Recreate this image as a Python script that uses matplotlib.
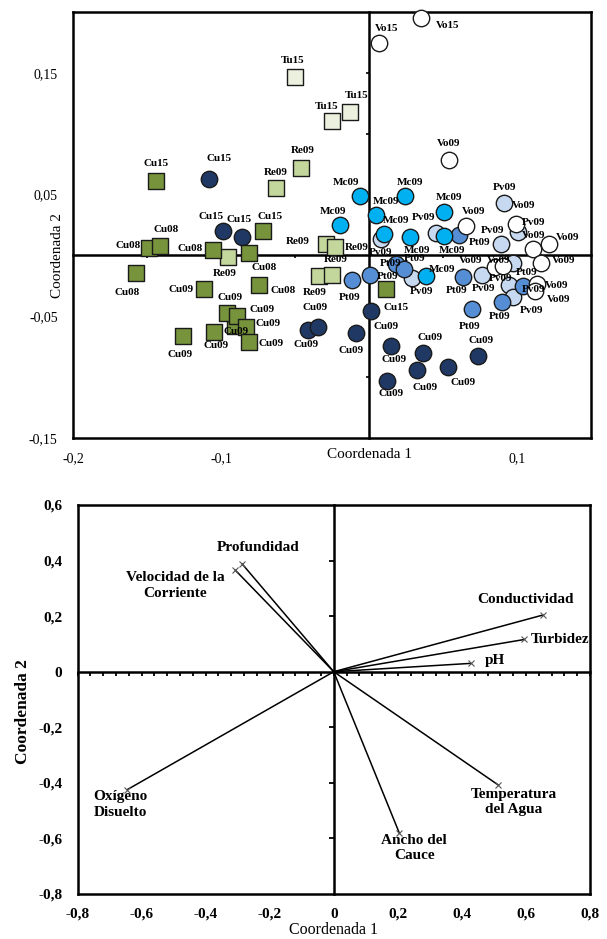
import matplotlib
matplotlib.use('Agg')
import matplotlib.pyplot as plt
import numpy as np

plt.rcParams['font.family'] = ['Liberation Serif', 'DejaVu Serif']

# ================= TOP CHART DATA (site ordination) =================
# Olive squares (Cu sites)
cu_sq_labels = ['Cu15', 'Cu15', 'Cu08', 'Cu08', 'Cu08', 'Cu08', 'Cu08', 'Cu09', 'Cu08',
                'Cu09', 'Cu09', 'Cu09', 'Cu09', 'Cu09', 'Cu09', 'Cu09', 'Cu15']
cu_sq_x = [-0.1439, -0.0718, -0.1486, -0.1412, -0.1052, -0.0813, -0.1574, -0.1115, -0.0741,
           -0.0905, -0.0961, -0.0890, -0.0833, -0.0809, -0.1045, -0.1255, 0.0115]
cu_sq_y = [0.0615, 0.0199, 0.0063, 0.0076, 0.0043, 0.0022, -0.0142, -0.0273, -0.0243,
           -0.0580, -0.0470, -0.0498, -0.0588, -0.0711, -0.0629, -0.0661, -0.0279]

# Light green squares (Re09)
re_labels = ['Re09'] * 7
re_x = [-0.0459, -0.0630, -0.0955, -0.0293, -0.0228, -0.0340, -0.0252]
re_y = [0.0716, 0.0552, -0.0014, 0.0098, 0.0068, -0.0170, -0.0158]

# Very light squares (Tu15)
tu_labels = ['Tu15'] * 3
tu_x = [-0.0500, -0.0128, -0.0252]
tu_y = [0.1467, 0.1180, 0.1101]

# Navy circles (Cu)
cu_ci_labels = ['Cu15', 'Cu15', 'Cu15', 'Cu09', 'Cu09', 'Cu09', 'Cu09', 'Cu09', 'Cu09',
                'Cu09', 'Cu09', 'Cu09', 'Cu09']
cu_ci_x = [-0.1081, -0.0989, -0.0860, -0.0410, -0.0347, -0.0088, 0.0014, 0.0149, 0.0367,
           0.0739, 0.0326, 0.0536, 0.0120]
cu_ci_y = [0.0629, 0.0199, 0.0153, -0.0612, -0.0588, -0.0639, -0.0457, -0.0743, -0.0798,
           -0.0825, -0.0940, -0.0920, -0.1030]

# Sky blue circles (Mc09)
mc_labels = ['Mc09'] * 9
mc_x = [-0.0061, 0.0243, -0.0196, 0.0047, 0.0507, 0.0103, 0.0277, 0.0507, 0.0383]
mc_y = [0.0486, 0.0486, 0.0248, 0.0330, 0.0355, 0.0172, 0.0153, 0.0158, -0.0170]

# Medium blue circles (Pt09)
pt_labels = ['Pt09'] * 9
pt_x = [0.0608, -0.0117, 0.0007, 0.0180, 0.0236, 0.0633, 0.1043, 0.0897, 0.0694]
pt_y = [0.0164, -0.0205, -0.0164, -0.0074, -0.0109, -0.0178, -0.0252, -0.0383, -0.0443]

# Light blue circles (Pv09)
pv_labels = ['Pv09'] * 10
pv_x = [0.0912, 0.0081, 0.0453, 0.1005, 0.0890, 0.0293, 0.0761, 0.0975, 0.0948, 0.0975]
pv_y = [0.0432, 0.0137, 0.0186, 0.0194, 0.0090, -0.0189, -0.0164, -0.0060, -0.0246, -0.0339]

# White circles (Vo)
vo_labels = ['Vo15', 'Vo15'] + ['Vo09'] * 10
vo_x = [0.0349, 0.0068, 0.0541, 0.0653, 0.0993, 0.1110, 0.1218, 0.0851, 0.0907, 0.1160,
        0.1133, 0.1122]
vo_y = [0.1948, 0.1748, 0.0781, 0.0240, 0.0262, 0.0049, 0.0090, -0.0093, -0.0086, -0.0066,
        -0.0238, -0.0293]

top_xticks = [-0.2, -0.1, 0.1]
top_xticklabels = ['-0,2', '-0,1', '0,1']
top_yticks = [0.15, 0.05, -0.05, -0.15]
top_yticklabels = ['0,15', '0,05', '-0,05', '-0,15']

# ================= BOTTOM CHART DATA (variable vectors) =================
var_names = ['Profundidad', 'Velocidad de la\nCorriente', 'Conductividad', 'Turbidez', 'pH',
             'Oxígeno\nDisuelto', 'Temperatura\ndel Agua', 'Ancho del\nCauce']
var_x = [-0.286, -0.307, 0.653, 0.595, 0.427, -0.644, 0.514, 0.2045]
var_y = [0.388, 0.365, 0.204, 0.116, 0.030, -0.424, -0.408, -0.580]

bot_ticks_x = [-0.8, -0.6, -0.4, -0.2, 0, 0.2, 0.4, 0.6, 0.8]
bot_ticklabels_x = ['-0,8', '-0,6', '-0,4', '-0,2', '0', '0,2', '0,4', '0,6', '0,8']
bot_ticks_y = [0.6, 0.4, 0.2, 0, -0.2, -0.4, -0.6, -0.8]
bot_ticklabels_y = ['0,6', '0,4', '0,2', '0', '-0,2', '-0,4', '-0,6', '-0,8']

# ================= layout / style (not data) =================
# label offsets in pixels (dx, dy) for each point label
cu_sq_off = [(0, 17), (7, 15), (-21, 2), (6, 17), (-23, 2), (15, -15), (-9, -20), (-23, -1),
             (24, -5), (1, -5), (3, 15), (25, 7), (22, 3), (22, -2), (2, -14), (-3, -19),
             (10, -18)]
re_off = [(2, 18), (0, 16), (-3, -16), (-28, 2), (21, 0), (-4, -16), (4, 15)]
tu_off = [(-2, 16), (7, 16), (-5, 15)]
cu_ci_off = [(10, 20), (-12, 15), (-3, 17), (-2, -15), (-3, 19), (-5, -17), (15, -15),
             (3, -14), (7, 15), (3, 15), (8, -18), (15, -15), (4, -13)]
mc_off = [(-14, 14), (5, 14), (-7, 14), (10, 14), (5, 15), (12, 14), (7, -14), (8, -14), (16, 7)]
pt_off = [(21, -7), (-2, -17), (18, -1), (-5, 1), (11, 10), (-6, -13), (3, 14), (-2, -14), (-2, -17)]
pv_off = [(1, 15), (0, -14), (-12, 15), (16, 9), (-8, 14), (9, -13), (2, -13), (-13, -16),
          (24, -4), (18, -14)]
vo_off = [(27, -7), (8, 14), (0, 17), (8, 15), (8, 18), (0, 14), (18, 7), (-24, 6), (-5, 5),
          (23, 3), (20, -1), (24, -8)]

var_off = [(16, 16), (-60, -15), (-17, 16), (6, 0), (24, 3), (-34, -15), (15, -17), (15, -15)]
var_ha = ['center', 'center', 'center', 'left', 'center', 'left', 'center', 'center']

W, H = 607, 939
fig = plt.figure(figsize=(W / 100, H / 100), dpi=100)

# ---------------- TOP ----------------
top_rect = [73 / W, 1 - 438 / H, 518 / W, 426 / H]
xlim_t = (-0.2, 0.15)
ylim_t = (-0.15, 0.2)

ov = fig.add_axes(top_rect)
ov.set_xlim(*xlim_t); ov.set_ylim(*ylim_t)
for s in ['top', 'right']:
    ov.spines[s].set_visible(False)
for s in ['left', 'bottom']:
    ov.spines[s].set_position(('data', 0))
    ov.spines[s].set_linewidth(1.8)
ov.set_xticks([-0.15, -0.05, 0.05])
ov.set_yticks([0.15, 0.1, -0.1])
ov.tick_params(labelbottom=False, labelleft=False, direction='out', length=2.5, width=1.2)
ov.set_zorder(1)

ax = fig.add_axes(top_rect)
ax.set_zorder(2)
ax.patch.set_visible(False)
ax.set_xlim(*xlim_t); ax.set_ylim(*ylim_t)
for s in ax.spines.values():
    s.set_linewidth(1.8)
ax.set_xticks(top_xticks)
ax.set_xticklabels(top_xticklabels, fontsize=10)
ax.set_yticks(top_yticks)
ax.set_yticklabels(top_yticklabels, fontsize=10)
ax.tick_params(axis='x', length=0, pad=10)
ax.tick_params(axis='y', length=0, pad=11)
ax.set_xlabel('Coordenada 1', fontsize=11)
ax.xaxis.set_label_coords(0.2 / 0.35, -0.023)
ax.xaxis.label.set_va('top')
ax.set_ylabel('Coordenada 2', fontsize=11)
ax.yaxis.set_label_coords(-0.017, 0.15 / 0.35)

series = [
    (pv_x, pv_y, pv_labels, pv_off, 'o', '#C6D9F1'),
    (pt_x, pt_y, pt_labels, pt_off, 'o', '#558ED5'),
    (vo_x, vo_y, vo_labels, vo_off, 'o', '#FFFFFF'),
    (mc_x, mc_y, mc_labels, mc_off, 'o', '#00B0F0'),
    (cu_ci_x, cu_ci_y, cu_ci_labels, cu_ci_off, 'o', '#1F3864'),
    (tu_x, tu_y, tu_labels, tu_off, 's', '#EBF1DE'),
    (re_x, re_y, re_labels, re_off, 's', '#C3D69B'),
    (cu_sq_x, cu_sq_y, cu_sq_labels, cu_sq_off, 's', '#77933C'),
]
for xs, ys, labs, offs, mk, col in series:
    ax.scatter(xs, ys, s=140 if mk == 'o' else 132, marker=mk, facecolor=col,
               edgecolor='#1a1a1a', linewidth=1.0, zorder=3, clip_on=False)
    for xv, yv, lab, (dx, dy) in zip(xs, ys, labs, offs):
        ax.annotate(lab, (xv, yv), xytext=(dx, dy), textcoords='offset pixels',
                    ha='center', va='center', fontsize=8, fontweight='bold',
                    zorder=5, annotation_clip=False)

# ---------------- BOTTOM ----------------
bot_rect = [77.5 / W, 1 - 894 / H, 512.5 / W, 389 / H]
xlim_b = (-0.8, 0.8)
ylim_b = (-0.8, 0.6)

ov2 = fig.add_axes(bot_rect)
ov2.set_xlim(*xlim_b); ov2.set_ylim(*ylim_b)
for s in ['top', 'right']:
    ov2.spines[s].set_visible(False)
for s in ['left', 'bottom']:
    ov2.spines[s].set_position(('data', 0))
    ov2.spines[s].set_linewidth(1.8)
ov2.set_xticks(np.round(np.arange(-0.8, 0.8001, 0.04), 2))
ov2.set_yticks([0.4, 0.2, -0.2, -0.4, -0.6])
ov2.tick_params(labelbottom=False, labelleft=False, direction='out', width=1.3)
ov2.tick_params(axis='x', length=3)
ov2.tick_params(axis='y', length=3.5)
ov2.set_zorder(1)

bx = fig.add_axes(bot_rect)
bx.set_zorder(2)
bx.patch.set_visible(False)
bx.set_xlim(*xlim_b); bx.set_ylim(*ylim_b)
for s in bx.spines.values():
    s.set_linewidth(1.8)
bx.set_xticks(bot_ticks_x)
bx.set_xticklabels(bot_ticklabels_x, fontsize=11, fontweight='bold')
bx.set_yticks(bot_ticks_y)
bx.set_yticklabels(bot_ticklabels_y, fontsize=11, fontweight='bold')
bx.tick_params(axis='x', length=0, pad=10)
bx.tick_params(axis='y', length=0, pad=11)
bx.set_xlabel('Coordenada 1', fontsize=11.5)
bx.xaxis.set_label_coords(0.5, -0.072)
bx.xaxis.label.set_va('top')
bx.set_ylabel('Coordenada 2', fontsize=12.5, fontweight='bold')
bx.yaxis.set_label_coords(-0.09, 0.47)

for xv, yv, name, (dx, dy), ha in zip(var_x, var_y, var_names, var_off, var_ha):
    bx.plot([0, xv], [0, yv], color='black', lw=1.1, zorder=3)
    bx.plot([xv], [yv], marker='x', ms=4.5, mew=0.8, color='#555555', zorder=4)
    bx.annotate(name, (xv, yv), xytext=(dx, dy), textcoords='offset pixels',
                ha=ha, va='center', fontsize=11, fontweight='bold',
                multialignment='center' if ha == 'center' else 'left',
                linespacing=1.25, zorder=5, annotation_clip=False)

fig.savefig('out.png', dpi=100)
